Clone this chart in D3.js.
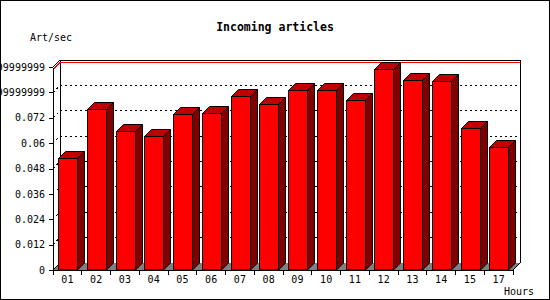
<!DOCTYPE html>
<html>
<head>
<meta charset="utf-8">
<script src="https://cdn.jsdelivr.net/npm/d3@7"></script>
<style>
  body { margin: 0; background: #fff; }
  svg { display: block; }
  text { font-family: "DejaVu Sans Mono", monospace; font-size: 10px; fill: #000; }
  .title { font-weight: bold; font-size: 11.5px; }
</style>
</head>
<body>
<div id="chart"></div>
<script>
// Chart data
const hours = ["01", "02", "03", "04", "05", "06", "07", "08", "09", "10", "11", "12", "13", "14", "15", "17"];
const rates = [0.0528, 0.0760, 0.0656, 0.0634, 0.0736, 0.0741, 0.0823, 0.0784, 0.0851, 0.0851, 0.0804, 0.0951, 0.0899, 0.0894, 0.0670, 0.0583];
const yTicks = [0, 0.012, 0.024, 0.036, 0.048, 0.06, 0.072, 0.084, 0.096];
const yTickLabels = ["0", "0.012", "0.024", "0.036", "0.048", "0.06", "0.072", "0.0839999999999999", "0.0959999999999999"];

const W = 550, H = 300;
const depth = 7; // 3d offset of the back plane

const svg = d3.select("#chart").append("svg")
  .attr("width", W)
  .attr("height", H);

// Scales (front plane)
const x = d3.scaleBand().domain(hours).range([53, 513]);
const y = d3.scaleLinear().domain([0, 0.096]).range([270, 67]);
const x0 = x.range()[0], x1 = x.range()[1];
const yb = y(0), yt = y(0.096);

// outer frame
svg.append("rect")
  .attr("x", 0.5).attr("y", 0.5)
  .attr("width", W - 1).attr("height", H - 1)
  .attr("fill", "#fff").attr("stroke", "#000");

const plot = svg.append("g").attr("shape-rendering", "crispEdges");

// back plane outline
plot.append("path")
  .attr("d", `M${x0 + depth},${yb - depth}V${yt - depth}H${x1 + depth}V${yb - depth}`)
  .attr("fill", "none").attr("stroke", "#000");
plot.append("line")
  .attr("x1", x0).attr("y1", yt).attr("x2", x0 + depth).attr("y2", yt - depth)
  .attr("stroke", "#000").attr("shape-rendering", "auto");

// grid lines on back plane
const grid = yTicks.filter(d => d > 0 && d < 0.096);
plot.selectAll(".grid")
  .data(grid)
  .enter().append("path")
  .attr("class", "grid")
  .attr("d", d => `M${x0},${y(d)}L${x0 + depth},${y(d) - depth}H${x1 + depth}`)
  .attr("fill", "none")
  .attr("stroke", "#000")
  .attr("stroke-dasharray", "2,3");

// floor
plot.append("path")
  .attr("d", `M${x0},${yb}L${x1},${yb}L${x1 + depth},${yb - depth}L${x0 + depth},${yb - depth}Z`)
  .attr("fill", "#808080");
plot.append("line")
  .attr("x1", x1).attr("y1", yb).attr("x2", x1 + depth).attr("y2", yb - depth)
  .attr("stroke", "#000").attr("shape-rendering", "auto");
plot.append("line")
  .attr("x1", x0).attr("y1", yb).attr("x2", x0 + depth).attr("y2", yb - depth)
  .attr("stroke", "#000").attr("shape-rendering", "auto");

// max line
const ym = Math.round(y(d3.max(rates))) + 0.5;
plot.append("path")
  .attr("d", `M${x0},${ym}L${x0 + depth},${ym - depth}H${x1 + depth}`)
  .attr("fill", "none").attr("stroke", "#ff0000");

// bars
const bw = x.bandwidth() * 0.65;
const bars = plot.selectAll(".bar")
  .data(hours.map((h, i) => ({hour: h, value: rates[i]})))
  .enter().append("g")
  .attr("class", "bar")
  .attr("shape-rendering", "auto");

const bx = d => Math.round(x(d.hour) + (x.bandwidth() - bw) / 2) + 0.5;
const bt = d => Math.round(y(d.value)) + 0.5;
const bwr = Math.round(bw);

bars.append("path") // side
  .attr("d", d => `M${bx(d) + bwr},${bt(d)}L${bx(d) + bwr + depth},${bt(d) - depth}V${yb - depth}L${bx(d) + bwr},${yb}Z`)
  .attr("fill", "#800000").attr("stroke", "#000");
bars.append("path") // top
  .attr("d", d => `M${bx(d)},${bt(d)}L${bx(d) + depth},${bt(d) - depth}H${bx(d) + bwr + depth}L${bx(d) + bwr},${bt(d)}Z`)
  .attr("fill", "#c00000").attr("stroke", "#000");
bars.append("rect") // front
  .attr("x", d => bx(d))
  .attr("y", d => bt(d))
  .attr("width", bwr)
  .attr("height", d => yb - bt(d))
  .attr("fill", "#ff0000").attr("stroke", "#000");

// y axis
const yAxis = d3.axisLeft(y)
  .tickValues(yTicks)
  .tickFormat((d, i) => yTickLabels[i])
  .tickSize(4)
  .tickSizeOuter(0)
  .tickPadding(4);

svg.append("g")
  .attr("transform", `translate(${x0},0)`)
  .attr("shape-rendering", "crispEdges")
  .call(yAxis)
  .call(g => g.selectAll("text").attr("font-family", null).attr("font-size", null));

// x axis
const xAxis = d3.axisBottom(x)
  .tickSize(0)
  .tickSizeOuter(0)
  .tickPadding(6);

const gx = svg.append("g")
  .attr("transform", `translate(0,${yb})`)
  .attr("shape-rendering", "crispEdges")
  .call(xAxis)
  .call(g => g.selectAll("text").attr("font-family", null).attr("font-size", null));

gx.selectAll(".bound")
  .data(hours.map(h => x(h)).concat([x1]))
  .enter().append("line")
  .attr("class", "bound")
  .attr("x1", d => d).attr("x2", d => d)
  .attr("y1", 0).attr("y2", 5)
  .attr("stroke", "#000");

// titles
svg.append("text")
  .attr("class", "title")
  .attr("x", 275)
  .attr("y", 31)
  .attr("text-anchor", "middle")
  .text("Incoming articles");

svg.append("text")
  .attr("x", 30)
  .attr("y", 40.5)
  .text("Art/sec");

svg.append("text")
  .attr("x", 534)
  .attr("y", 295)
  .attr("text-anchor", "end")
  .text("Hours");
</script>
</body>
</html>
